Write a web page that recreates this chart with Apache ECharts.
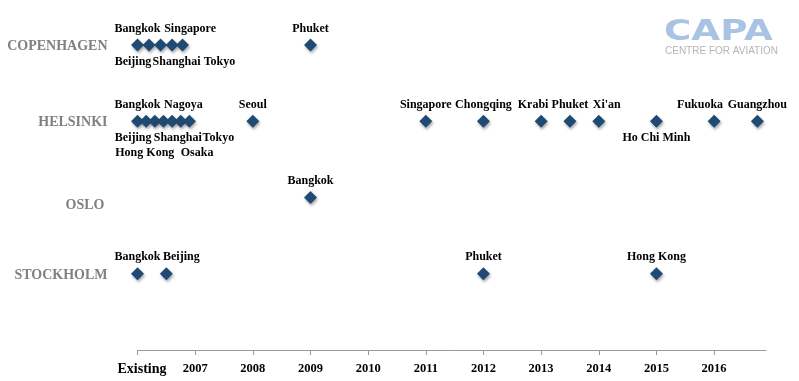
<!DOCTYPE html>
<html>
<head>
<meta charset="utf-8">
<script src="https://cdn.jsdelivr.net/npm/echarts@6/dist/echarts.min.js"></script>
<style>
html,body{margin:0;padding:0;background:#fff;}
#chart{width:799px;height:381px;}
</style>
</head>
<body>
<div id="chart"></div>
<script>
// ---- DATA ----
const hubs = ['STOCKHOLM', 'OSLO', 'HELSINKI', 'COPENHAGEN']; // y = 1..4
const xTickLabels = ['Existing', '2007', '2008', '2009', '2010', '2011', '2012', '2013', '2014', '2015', '2016'];
const xStart = 2006; // "Existing"

const copenhagenRoutes = ['Bangkok', 'Beijing', 'Shanghai', 'Singapore', 'Tokyo', 'Phuket'];
const copenhagenYears  = [2006, 2006.2, 2006.4, 2006.6, 2006.78, 2009];

const helsinkiRoutes = ['Bangkok', 'Beijing', 'Hong Kong', 'Nagoya', 'Osaka', 'Shanghai', 'Tokyo', 'Seoul',
  'Singapore', 'Chongqing', 'Krabi', 'Phuket', "Xi'an", 'Ho Chi Minh', 'Fukuoka', 'Guangzhou'];
const helsinkiYears  = [2006, 2006.15, 2006.3, 2006.45, 2006.6, 2006.75, 2006.9, 2008,
  2011, 2012, 2013, 2013.5, 2014, 2015, 2016, 2016.75];

const osloRoutes = ['Bangkok'];
const osloYears  = [2009];

const stockholmRoutes = ['Bangkok', 'Beijing', 'Phuket', 'Hong Kong'];
const stockholmYears  = [2006, 2006.5, 2012, 2015];

// ---- LABEL PLACEMENT (style only) ----
const labelPlacement = {
  'COPENHAGEN|Beijing':   ['bottom', -16, 0],
  'COPENHAGEN|Shanghai':  ['bottom', 16, 0],
  'COPENHAGEN|Singapore': ['top', 18, 0],
  'COPENHAGEN|Tokyo':     ['bottom', 37, 0],
  'HELSINKI|Beijing':     ['bottom', -13, 0],
  'HELSINKI|Hong Kong':   ['bottom', -10, 15],
  'HELSINKI|Nagoya':      ['top', 20, 0],
  'HELSINKI|Osaka':       ['bottom', 25, 15],
  'HELSINKI|Shanghai':    ['bottom', -3, 0],
  'HELSINKI|Tokyo':       ['bottom', 29, 0],
  'HELSINKI|Krabi':       ['top', -8, 0],
  "HELSINKI|Xi'an":       ['top', 8, 0],
  'HELSINKI|Ho Chi Minh': ['bottom', 0, 0],
  'HELSINKI|Fukuoka':     ['top', -14, 0],
  'STOCKHOLM|Beijing':    ['top', 15, 0]
};

const serif = '"Liberation Serif", "DejaVu Serif", serif';
const markColor = '#1f4a73';

function buildSeries(hub, names, years) {
  const yVal = hubs.indexOf(hub) + 1;
  return {
    type: 'scatter',
    name: hub,
    symbol: 'diamond',
    symbolSize: 13,
    itemStyle: {
      color: markColor,
      opacity: 1,
      shadowBlur: 3,
      shadowColor: 'rgba(0,0,0,0.35)',
      shadowOffsetX: 1,
      shadowOffsetY: 2
    },
    data: names.map((n, i) => {
      const p = labelPlacement[hub + '|' + n] || ['top', 0, 0];
      return {
        name: n,
        value: [years[i], yVal],
        label: {
          show: true,
          formatter: n,
          position: p[0],
          offset: [p[1], p[2]],
          distance: 4,
          color: '#000',
          fontFamily: serif,
          fontWeight: 'bold',
          fontSize: 12
        }
      };
    })
  };
}

const chart = echarts.init(document.getElementById('chart'), null, { renderer: 'canvas' });

chart.setOption({
  backgroundColor: '#ffffff',
  animation: false,
  grid: { left: 137.5, right: 33, top: 7, bottom: 31, containLabel: false },
  xAxis: {
    type: 'value',
    min: 2006,
    max: 2016.9,
    interval: 1,
    splitLine: { show: false },
    axisLine: { show: true, onZero: false, lineStyle: { color: '#9a9a9a', width: 1 } },
    axisTick: { show: true, length: 5, lineStyle: { color: '#9a9a9a' } },
    axisLabel: {
      margin: 12,
      showMaxLabel: false,
      color: '#000',
      fontFamily: serif,
      fontWeight: 'bold',
      fontSize: 12.5,
      formatter: function (v) {
        const i = Math.round(v - xStart);
        if (Math.abs(v - xStart - i) > 1e-6 || i < 0 || i >= xTickLabels.length) return '';
        return i === 0 ? '{ex|' + xTickLabels[0] + '}' : xTickLabels[i];
      },
      rich: {
        ex: { fontSize: 14, fontWeight: 'bold', fontFamily: serif, color: '#000', padding: [0, 0, 0, 9] }
      }
    }
  },
  yAxis: {
    type: 'value',
    min: 0,
    max: 4.5,
    interval: 1,
    splitLine: { show: false },
    axisLine: { show: false },
    axisTick: { show: false },
    axisLabel: {
      margin: 30,
      color: '#808080',
      fontFamily: serif,
      fontWeight: 'bold',
      fontSize: 14,
      formatter: function (v) {
        const i = Math.round(v);
        if (Math.abs(v - i) > 1e-6 || i < 1 || i > hubs.length) return '';
        const name = hubs[i - 1];
        return name === 'OSLO' ? '{low|' + name + '}' : '{n|' + name + '}';
      },
      rich: {
        n: { fontSize: 14, fontWeight: 'bold', fontFamily: serif, color: '#808080', padding: [3, 0, 0, 0] },
        low: { fontSize: 14, fontWeight: 'bold', fontFamily: serif, color: '#808080', padding: [16, 3, 0, 0] }
      }
    }
  },
  graphic: [
    {
      type: 'text',
      left: 664,
      top: 19,
      scaleX: 1.33,
      style: {
        text: 'CAPA',
        fill: '#a9c4e2',
        font: 'bold 28px "DejaVu Sans", "Liberation Sans", Arial, sans-serif'
      }
    },
    {
      type: 'text',
      left: 665,
      top: 46,
      style: {
        text: 'CENTRE FOR AVIATION',
        fill: '#b5b5b5',
        font: '10px "Liberation Sans", Arial, sans-serif'
      }
    }
  ],
  series: [
    buildSeries('COPENHAGEN', copenhagenRoutes, copenhagenYears),
    buildSeries('HELSINKI', helsinkiRoutes, helsinkiYears),
    buildSeries('OSLO', osloRoutes, osloYears),
    buildSeries('STOCKHOLM', stockholmRoutes, stockholmYears)
  ]
});
</script>
</body>
</html>
